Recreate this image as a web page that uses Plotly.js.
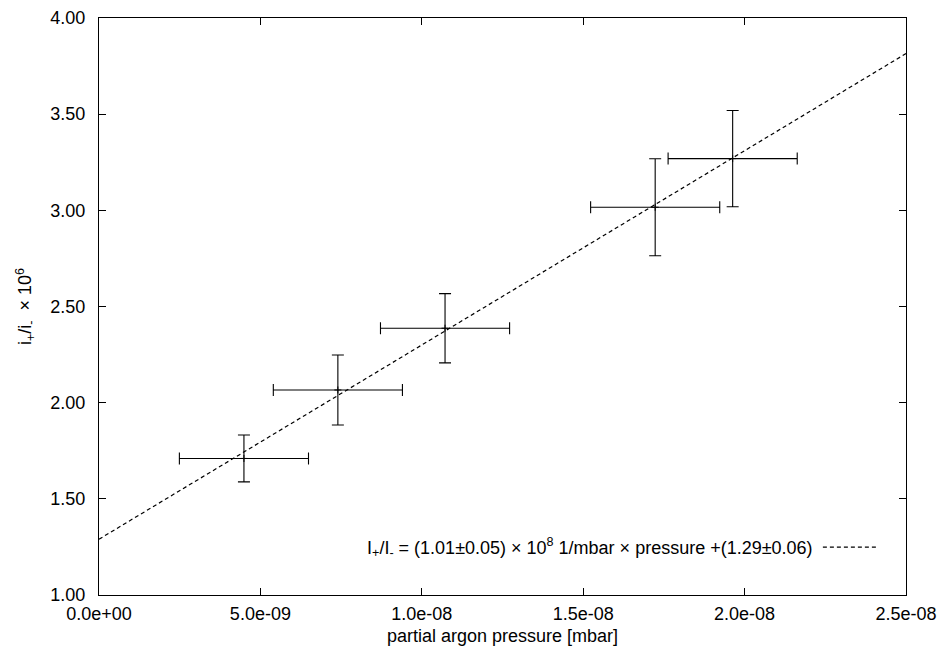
<!DOCTYPE html>
<html>
<head>
<meta charset="utf-8">
<script src="https://cdn.plot.ly/plotly-3.0.1.min.js"></script>
<style>html,body{margin:0;padding:0;background:#fff;}#chart{width:941px;height:653px;}</style>
</head>
<body>
<div id="chart"></div>
<script>
// Data
const pressure = [4.49e-9, 7.40e-9, 10.72e-9, 17.23e-9, 19.63e-9];
const pressureErr = [2.0e-9, 2.0e-9, 2.0e-9, 2.0e-9, 2.0e-9];
const ratio = [1.71, 2.066, 2.387, 3.016, 3.269];
const ratioErr = [0.122, 0.182, 0.18, 0.252, 0.25];
const fitSlope = 1.01e8;
const fitIntercept = 1.29;
const fitX = [0, 2.5e-8];
const xTickVals = [0, 5e-9, 1e-8, 1.5e-8, 2e-8, 2.5e-8];
const xTickText = ["0.0e+00", "5.0e-09", "1.0e-08", "1.5e-08", "2.0e-08", "2.5e-08"];
const yTickVals = [1.0, 1.5, 2.0, 2.5, 3.0, 3.5, 4.0];
const legendText = "I<sub>+</sub>/I<sub>-</sub> = (1.01\u00b10.05) \u00d7 10<sup>8</sup> 1/mbar \u00d7 pressure +(1.29\u00b10.06)";

const fitY = fitX.map(x => fitSlope * x + fitIntercept);

const font = {family: "Liberation Sans, Arial, sans-serif", size: 18, color: "#000"};

const traces = [
  {
    x: fitX, y: fitY, type: "scatter", mode: "lines",
    line: {color: "#000", width: 1.2, dash: "4px,3px"},
    hoverinfo: "skip", showlegend: false
  },
  {
    x: pressure, y: ratio, type: "scatter", mode: "markers",
    marker: {symbol: "cross-thin-open", size: 5, color: "#000", line: {color: "#000", width: 1}},
    error_x: {type: "data", array: pressureErr, visible: true, color: "#000", thickness: 1.1, width: 6},
    error_y: {type: "data", array: ratioErr, visible: true, color: "#000", thickness: 1.1, width: 6},
    showlegend: false
  }
];

const layout = {
  width: 941, height: 653,
  margin: {l: 99, r: 35, t: 18, b: 58},
  paper_bgcolor: "#fff", plot_bgcolor: "#fff",
  font: font,
  showlegend: false,
  xaxis: {
    range: [0, 2.5e-8], tickvals: xTickVals, ticktext: xTickText,
    showgrid: false, zeroline: false, showline: true, linecolor: "#000", linewidth: 1.2,
    mirror: "ticks", ticks: "inside", ticklen: 7, tickcolor: "#000", tickwidth: 1,
    tickfont: font, ticklabelstandoff: 2,
    title: {text: "partial argon pressure [mbar]", font: font, standoff: 6}
  },
  yaxis: {
    range: [1.0, 4.0], tickvals: yTickVals, tickformat: ".2f",
    showgrid: false, zeroline: false, showline: true, linecolor: "#000", linewidth: 1.2,
    mirror: "ticks", ticks: "inside", ticklen: 7, tickcolor: "#000", tickwidth: 1,
    tickfont: font, ticklabelstandoff: 9,
    title: {text: "i<sub>+</sub>/i<sub>-</sub>  \u00d7 10<sup>6</sup>", font: font, standoff: 13}
  },
  annotations: [
    {
      xref: "paper", yref: "paper", x: 0.887, y: 0.083, xanchor: "right", yanchor: "middle",
      text: legendText, showarrow: false, font: font
    }
  ],
  shapes: [
    {
      type: "line", xref: "paper", yref: "paper", x0: 0.897, x1: 0.966, y0: 0.083, y1: 0.083,
      line: {color: "#000", width: 1.2, dash: "4px,3px"}
    }
  ]
};

Plotly.newPlot("chart", traces, layout, {displayModeBar: false, staticPlot: true});
</script>
</body>
</html>
